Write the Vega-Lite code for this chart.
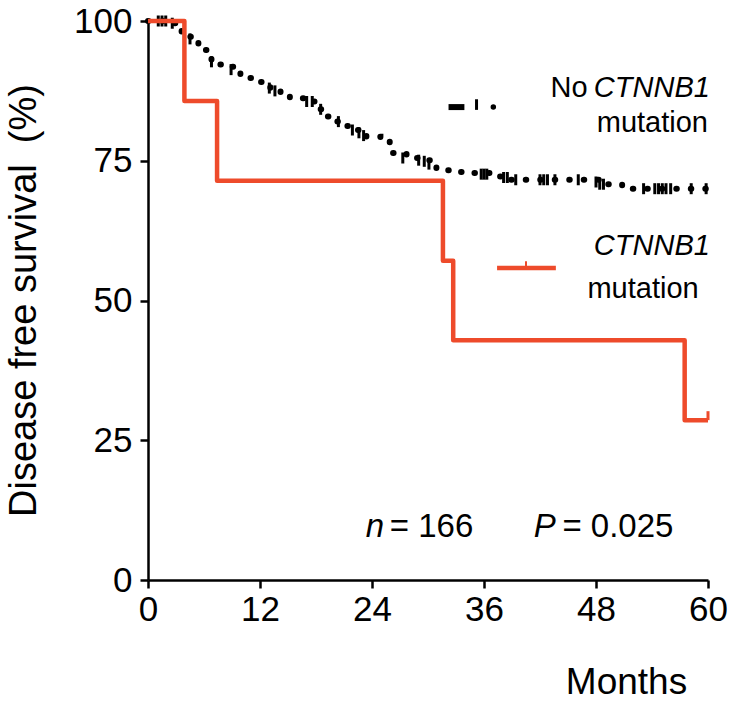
{
  "$schema": "https://vega.github.io/schema/vega-lite/v6.json",
  "width": 560,
  "height": 559,
  "autosize": "none",
  "padding": {"left": 148, "top": 21, "right": 25, "bottom": 121},
  "background": "white",
  "config": {
    "view": {"stroke": null},
    "font": "Liberation Sans",
    "axis": {
      "grid": false,
      "domainColor": "black",
      "domainWidth": 2.5,
      "tickColor": "black",
      "tickWidth": 2.5,
      "tickSize": 8,
      "labelColor": "black",
      "labelFontSize": 35,
      "labelFlush": false,
      "labelOverlap": false,
      "titleColor": "black",
      "titleFontWeight": "normal"
    }
  },
  "datasets": {
    "curves": [
      {"group": "No", "month": 0, "surv": 100},
      {"group": "No", "month": 1.5, "surv": 100},
      {"group": "No", "month": 2.4, "surv": 99.6},
      {"group": "No", "month": 3.0, "surv": 98.8},
      {"group": "No", "month": 3.6, "surv": 98.1},
      {"group": "No", "month": 4.2, "surv": 97.2},
      {"group": "No", "month": 4.8, "surv": 96.3},
      {"group": "No", "month": 5.4, "surv": 95.5},
      {"group": "No", "month": 5.9, "surv": 94.8},
      {"group": "No", "month": 6.4, "surv": 93.7},
      {"group": "No", "month": 6.8, "surv": 92.7},
      {"group": "No", "month": 7.6, "surv": 92.2},
      {"group": "No", "month": 8.6, "surv": 91.8},
      {"group": "No", "month": 9.2, "surv": 90.8},
      {"group": "No", "month": 9.9, "surv": 89.8},
      {"group": "No", "month": 11.3, "surv": 89.1},
      {"group": "No", "month": 12.2, "surv": 88.5},
      {"group": "No", "month": 13.1, "surv": 88.0},
      {"group": "No", "month": 14.2, "surv": 87.0},
      {"group": "No", "month": 15.2, "surv": 86.2},
      {"group": "No", "month": 17.2, "surv": 85.6},
      {"group": "No", "month": 18.2, "surv": 84.2},
      {"group": "No", "month": 18.8, "surv": 82.9},
      {"group": "No", "month": 20.2, "surv": 82.0},
      {"group": "No", "month": 21.0, "surv": 81.2},
      {"group": "No", "month": 21.8, "surv": 80.5},
      {"group": "No", "month": 23.4, "surv": 79.3},
      {"group": "No", "month": 24.9, "surv": 78.4},
      {"group": "No", "month": 25.9, "surv": 76.4},
      {"group": "No", "month": 27.7, "surv": 75.5},
      {"group": "No", "month": 29.5, "surv": 75.1},
      {"group": "No", "month": 30.3, "surv": 74.1},
      {"group": "No", "month": 30.9, "surv": 73.3},
      {"group": "No", "month": 32.9, "surv": 73.0},
      {"group": "No", "month": 34.7, "surv": 72.8},
      {"group": "No", "month": 36.7, "surv": 72.2},
      {"group": "No", "month": 38.6, "surv": 71.6},
      {"group": "No", "month": 49.2, "surv": 70.8},
      {"group": "No", "month": 50.8, "surv": 70.0},
      {"group": "No", "month": 60, "surv": 70.0},
      {"group": "Mut", "month": 0, "surv": 100},
      {"group": "Mut", "month": 3.9, "surv": 85.7},
      {"group": "Mut", "month": 7.4, "surv": 71.4},
      {"group": "Mut", "month": 31.6, "surv": 57.1},
      {"group": "Mut", "month": 32.7, "surv": 42.9},
      {"group": "Mut", "month": 57.5, "surv": 28.6},
      {"group": "Mut", "month": 60, "surv": 28.6}
    ],
    "censor": [
      {"month": 1.1, "surv": 100}, {"month": 1.5, "surv": 100}, {"month": 1.9, "surv": 100},
      {"month": 2.6, "surv": 99.6}, {"month": 4.5, "surv": 96.8}, {"month": 6.8, "surv": 92.7},
      {"month": 8.9, "surv": 91.3}, {"month": 13.0, "surv": 88.0}, {"month": 13.6, "surv": 87.5},
      {"month": 17.0, "surv": 85.6}, {"month": 17.6, "surv": 85.6}, {"month": 18.5, "surv": 84.2},
      {"month": 20.4, "surv": 82.0}, {"month": 21.9, "surv": 80.5}, {"month": 22.6, "surv": 80.0},
      {"month": 23.1, "surv": 79.5}, {"month": 27.3, "surv": 75.5}, {"month": 29.0, "surv": 75.1},
      {"month": 29.6, "surv": 74.9}, {"month": 30.1, "surv": 74.4}, {"month": 35.7, "surv": 72.6},
      {"month": 36.0, "surv": 72.6}, {"month": 36.3, "surv": 72.6},
      {"month": 38.1, "surv": 72.0}, {"month": 38.5, "surv": 72.0}, {"month": 39.4, "surv": 71.6},
      {"month": 42.0, "surv": 71.6}, {"month": 42.4, "surv": 71.6}, {"month": 42.8, "surv": 71.6},
      {"month": 43.6, "surv": 71.6}, {"month": 46.1, "surv": 71.6}, {"month": 48.0, "surv": 71.2},
      {"month": 48.4, "surv": 70.8}, {"month": 48.8, "surv": 70.8}, {"month": 53.1, "surv": 70.0},
      {"month": 54.3, "surv": 70.0}, {"month": 54.7, "surv": 70.0}, {"month": 55.1, "surv": 70.0},
      {"month": 55.5, "surv": 70.0}, {"month": 56.0, "surv": 70.0}, {"month": 58.2, "surv": 70.0},
      {"month": 59.8, "surv": 70.0}
    ]
  },
  "layer": [
    {
      "data": {"name": "curves"},
      "transform": [{"filter": "datum.group === 'No'"}],
      "mark": {"type": "line", "interpolate": "step-after", "color": "black", "strokeWidth": 6, "strokeCap": "round", "strokeDash": [0.5, 14]},
      "encoding": {
        "x": {
          "field": "month", "type": "quantitative",
          "scale": {"domain": [0, 60], "nice": false, "zero": false},
          "axis": {
            "values": [0, 12, 24, 36, 48, 60],
            "title": "Months",
            "titleFontSize": 37,
            "titleX": 478,
            "titleY": 113,
            "titleAlign": "center",
            "titleBaseline": "alphabetic",
            "labelPadding": 4
          }
        },
        "y": {
          "field": "surv", "type": "quantitative",
          "scale": {"domain": [0, 100], "nice": false},
          "axis": {
            "values": [0, 25, 50, 75, 100],
            "title": "Disease free survival\u00a0 (%)",
            "titleFontSize": 38,
            "titleX": -113,
            "titleY": 279,
            "titleAngle": -90,
            "titleAlign": "center",
            "titleBaseline": "alphabetic",
            "labelPadding": 8,
            "labelBaseline": "middle"
          }
        }
      }
    },
    {
      "data": {"name": "censor"},
      "mark": {"type": "tick", "orient": "vertical", "color": "black", "opacity": 1, "size": 11, "thickness": 3},
      "encoding": {
        "x": {"field": "month", "type": "quantitative"},
        "y": {"field": "surv", "type": "quantitative"}
      }
    },
    {
      "data": {"name": "curves"},
      "transform": [{"filter": "datum.group === 'Mut'"}],
      "mark": {"type": "line", "interpolate": "step-after", "color": "#EE4B2B", "strokeWidth": 4.5, "strokeJoin": "round"},
      "encoding": {
        "x": {"field": "month", "type": "quantitative"},
        "y": {"field": "surv", "type": "quantitative"}
      }
    },
    {
      "data": {"values": [{}]},
      "mark": {"type": "rule", "color": "#EE4B2B", "strokeWidth": 3},
      "encoding": {"x": {"datum": 60}, "y": {"datum": 28.6}, "y2": {"datum": 30.2}}
    },
    {
      "data": {"values": [{}]},
      "mark": {"type": "rule", "color": "#EE4B2B", "strokeWidth": 4.5},
      "encoding": {"x": {"datum": 37.4}, "x2": {"datum": 43.7}, "y": {"datum": 55.8}}
    },
    {
      "data": {"values": [{}]},
      "mark": {"type": "rule", "color": "#EE4B2B", "strokeWidth": 2},
      "encoding": {"x": {"datum": 40.5}, "y": {"datum": 55.8}, "y2": {"datum": 57.0}}
    },
    {
      "data": {"values": [{}]},
      "mark": {"type": "rule", "color": "black", "strokeWidth": 6},
      "encoding": {"x": {"datum": 32.2}, "x2": {"datum": 33.9}, "y": {"datum": 84.6}}
    },
    {
      "data": {"values": [{}]},
      "mark": {"type": "rule", "color": "black", "strokeWidth": 3},
      "encoding": {"x": {"datum": 35.2}, "y": {"datum": 84.1}, "y2": {"datum": 86.0}}
    },
    {
      "data": {"values": [{}]},
      "mark": {"type": "point", "filled": true, "color": "black", "size": 30, "opacity": 1},
      "encoding": {"x": {"datum": 37.0}, "y": {"datum": 84.6}}
    },
    {
      "data": {"values": [{}]},
      "mark": {"type": "text", "align": "right", "baseline": "alphabetic", "fontSize": 29, "color": "black"},
      "encoding": {"x": {"datum": 47.1}, "y": {"datum": 86.4}, "text": {"value": "No"}}
    },
    {
      "data": {"values": [{}]},
      "mark": {"type": "text", "align": "right", "baseline": "alphabetic", "fontSize": 29, "fontStyle": "italic", "color": "black"},
      "encoding": {"x": {"datum": 60.2}, "y": {"datum": 86.4}, "text": {"value": "CTNNB1"}}
    },
    {
      "data": {"values": [{}]},
      "mark": {"type": "text", "align": "right", "baseline": "alphabetic", "fontSize": 29, "color": "black"},
      "encoding": {"x": {"datum": 60.0}, "y": {"datum": 80.1}, "text": {"value": "mutation"}}
    },
    {
      "data": {"values": [{}]},
      "mark": {"type": "text", "align": "right", "baseline": "alphabetic", "fontSize": 29, "fontStyle": "italic", "color": "black"},
      "encoding": {"x": {"datum": 60.2}, "y": {"datum": 58.1}, "text": {"value": "CTNNB1"}}
    },
    {
      "data": {"values": [{}]},
      "mark": {"type": "text", "align": "right", "baseline": "alphabetic", "fontSize": 29, "color": "black"},
      "encoding": {"x": {"datum": 59.0}, "y": {"datum": 50.4}, "text": {"value": "mutation"}}
    },
    {
      "data": {"values": [{}]},
      "mark": {"type": "text", "align": "right", "baseline": "alphabetic", "fontSize": 33, "fontStyle": "italic", "color": "black"},
      "encoding": {"x": {"datum": 25.3}, "y": {"datum": 7.7}, "text": {"value": "n"}}
    },
    {
      "data": {"values": [{}]},
      "mark": {"type": "text", "align": "left", "baseline": "alphabetic", "fontSize": 33, "color": "black"},
      "encoding": {"x": {"datum": 25.9}, "y": {"datum": 7.7}, "text": {"value": "= 166"}}
    },
    {
      "data": {"values": [{}]},
      "mark": {"type": "text", "align": "right", "baseline": "alphabetic", "fontSize": 33, "fontStyle": "italic", "color": "black"},
      "encoding": {"x": {"datum": 43.7}, "y": {"datum": 7.7}, "text": {"value": "P"}}
    },
    {
      "data": {"values": [{}]},
      "mark": {"type": "text", "align": "left", "baseline": "alphabetic", "fontSize": 33, "color": "black"},
      "encoding": {"x": {"datum": 44.4}, "y": {"datum": 7.7}, "text": {"value": "= 0.025"}}
    }
  ]
}
